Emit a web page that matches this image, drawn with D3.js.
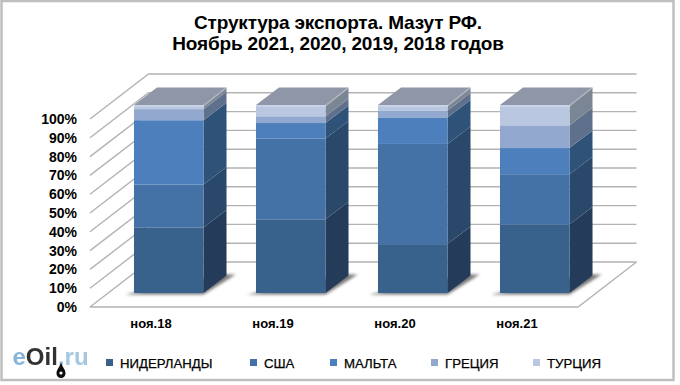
<!DOCTYPE html>
<html>
<head>
<meta charset="utf-8">
<script src="https://cdn.jsdelivr.net/npm/d3@7"></script>
<style>
  html, body { margin: 0; padding: 0; background: #fff; }
  svg { display: block; }
  text { font-family: "Liberation Sans", Arial, sans-serif; fill: #000; }
</style>
</head>
<body>
<div id="chart"></div>
<script>
var svgWidth = 680;
var svgHeight = 385;

var categories = ["ноя.18", "ноя.19", "ноя.20", "ноя.21"];
var seriesNames = ["НИДЕРЛАНДЫ", "США", "МАЛЬТА", "ГРЕЦИЯ", "ТУРЦИЯ"];
var niderlandy = [34.9, 39.2, 26.0, 36.5];
var usa = [22.8, 43.0, 53.3, 26.7];
var malta = [34.2, 8.2, 14.1, 13.9];
var gretsiya = [5.9, 3.6, 3.7, 12.1];
var turtsiya = [2.2, 6.0, 2.9, 10.8];
var yTicks = [0, 10, 20, 30, 40, 50, 60, 70, 80, 90, 100];

var frontColors = ["#38618c", "#4472a6", "#4c7fbb", "#93a8cf", "#b9c7e0"];
var sideColors = ["#243b5a", "#2a4869", "#2f5279", "#5f708c", "#7b8694"];

var seriesValues = [niderlandy, usa, malta, gretsiya, turtsiya];

// depth of the floor, and how far a bar sits into it
var depthX = 58.5, depthY = -45;
var barShiftX = 17.75, barShiftY = -14;
var barDepthX = 23, barDepthY = -17.5;

var svg = d3.select("#chart")
    .append("svg")
    .attr("width", svgWidth)
    .attr("height", svgHeight);

var defs = svg.append("defs");
defs.append("filter").attr("id", "blur")
    .attr("x", "-30%").attr("y", "-30%").attr("width", "160%").attr("height", "160%")
    .append("feGaussianBlur").attr("stdDeviation", 1.8);
defs.append("filter").attr("id", "soft")
    .append("feGaussianBlur").attr("stdDeviation", 0.4);

// frame
svg.append("rect")
    .attr("x", 1.5).attr("y", 1)
    .attr("width", 672).attr("height", 379)
    .attr("fill", "#fff")
    .attr("stroke", "#bfbfbf")
    .attr("stroke-width", 2.5);

var x = d3.scaleBand()
    .domain(categories)
    .range([90, 578])
    .paddingInner(0.43)
    .paddingOuter(0.215);

var y = d3.scaleLinear()
    .domain([0, 100])
    .range([307, 119]);

var gridColor = "#b3b3b3";
var grid = svg.append("g").attr("fill", "none").attr("stroke", gridColor).attr("stroke-width", 1.4);

// back wall and left wall lines
yTicks.forEach(function(t) {
    grid.append("path")
        .attr("d", d3.line()([
            [x.range()[0], y(t)],
            [x.range()[0] + depthX, y(t) + depthY],
            [x.range()[1] + depthX, y(t) + depthY]
        ]));
});

// floor
grid.append("path")
    .attr("d", d3.line()([
        [x.range()[0], y(0)],
        [x.range()[1], y(0)],
        [x.range()[1] + depthX, y(0) + depthY]
    ]));

// y axis labels
svg.append("g").selectAll("text")
    .data(yTicks)
    .enter()
    .append("text")
    .attr("x", 77)
    .attr("y", d => y(d) + 5)
    .attr("text-anchor", "end")
    .attr("font-size", 14)
    .attr("font-weight", "bold")
    .text(d => d + "%");

// x axis labels
svg.append("g").selectAll("text")
    .data(categories)
    .enter()
    .append("text")
    .attr("x", d => x(d) + x.bandwidth() / 2)
    .attr("y", 328)
    .attr("text-anchor", "middle")
    .attr("font-size", 13)
    .attr("font-weight", "bold")
    .text(d => d);

var barsGroup = svg.append("g").attr("transform", `translate(${barShiftX}, ${barShiftY})`);

categories.forEach(function(cat, i) {
    var x0 = x(cat);
    var x1 = x0 + x.bandwidth();

    // shadow on the floor
    barsGroup.append("path")
        .attr("d", d3.line()([
            [x0 - 9, y(0) + 1.5],
            [x1, y(0) + 1.5],
            [x1 + barDepthX + 9, y(0) + barDepthY - 1],
            [x1 + barDepthX - 5, y(0) + barDepthY - 1]
        ]) + "Z")
        .attr("fill", "#777")
        .attr("filter", "url(#blur)");

    var base = 0;
    seriesValues.forEach(function(values, s) {
        var v = values[i];
        var yBottom = y(base);
        var yTop = y(base + v);

        // side face
        barsGroup.append("path")
            .attr("d", d3.line()([
                [x1, yBottom],
                [x1 + barDepthX, yBottom + barDepthY],
                [x1 + barDepthX, yTop + barDepthY],
                [x1, yTop]
            ]) + "Z")
            .attr("fill", sideColors[s]);

        // front face
        barsGroup.append("rect")
            .attr("x", x0)
            .attr("y", yTop)
            .attr("width", x.bandwidth())
            .attr("height", yBottom - yTop)
            .attr("fill", frontColors[s]);

        base += v;
    });

    // top face
    barsGroup.append("path")
        .attr("d", d3.line()([
            [x0, y(100)],
            [x1, y(100)],
            [x1 + barDepthX, y(100) + barDepthY],
            [x0 + barDepthX, y(100) + barDepthY]
        ]) + "Z")
        .attr("fill", "#8e96a8");

    // light bevel along the top edges
    barsGroup.append("path")
        .attr("d", d3.line()([
            [x0, y(100) + 1],
            [x1, y(100) + 1],
            [x1 + barDepthX - 1, y(100) + barDepthY + 1]
        ]))
        .attr("fill", "none")
        .attr("stroke", "#fff")
        .attr("stroke-opacity", 0.3)
        .attr("stroke-width", 1.5);
});

// title
var title = svg.append("text")
    .attr("text-anchor", "middle")
    .attr("font-size", 19)
    .attr("font-weight", "bold")
    .attr("letter-spacing", "-0.15");
title.append("tspan").attr("x", 338).attr("y", 29).text("Структура экспорта. Мазут РФ.");
title.append("tspan").attr("x", 338).attr("y", 50).text("Ноябрь 2021, 2020, 2019, 2018 годов");

// legend
var legendX = [106, 250, 330, 431, 533];
var legend = svg.append("g");
seriesNames.forEach(function(name, s) {
    legend.append("rect")
        .attr("x", legendX[s])
        .attr("y", 359)
        .attr("width", 7)
        .attr("height", 7)
        .attr("fill", frontColors[s]);
    legend.append("text")
        .attr("x", legendX[s] + 14)
        .attr("y", 367.5)
        .attr("font-size", 13.2)
        .attr("stroke", "#000")
        .attr("stroke-width", 0.25)
        .text(name);
});

// logo
var logo = svg.append("g").attr("filter", "url(#soft)");
var logoText = logo.append("text")
    .attr("x", 12.5)
    .attr("y", 365)
    .attr("font-size", 24)
    .attr("font-weight", "bold");
logoText.append("tspan").style("fill", "#86b5dc").text("e");
logoText.append("tspan").style("fill", "#333").text("Oil");
logoText.append("tspan").style("fill", "#a5c7e0").text(".ru");

// oil drop hanging from the dot of the logo
logo.append("path")
    .attr("d", "M61 362 C62 367 65.5 369 65.5 373.5 A4.5 4.5 0 0 1 56.5 373.5 C56.5 369 60 367 61 362 Z")
    .attr("fill", "#111");
logo.append("circle")
    .attr("cx", 61).attr("cy", 373).attr("r", 1.6)
    .attr("fill", "#fff");
</script>
</body>
</html>
